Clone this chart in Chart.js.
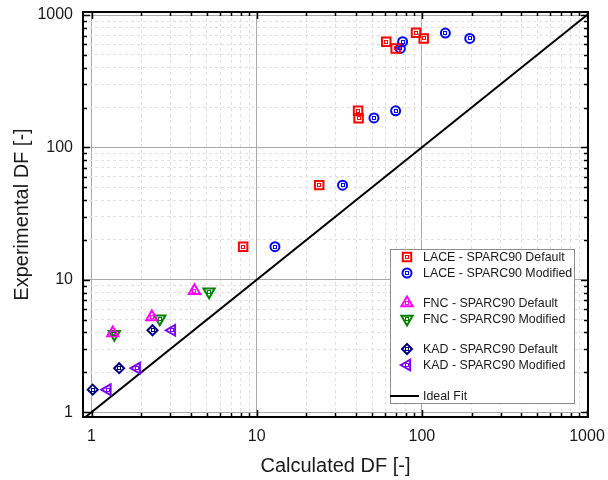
<!DOCTYPE html>
<html lang="en">
<head>
<meta charset="UTF-8">
<title>Experimental vs Calculated DF</title>
<script src="https://cdn.jsdelivr.net/npm/chart.js"></script>
<style>
  html, body { margin: 0; padding: 0; background: #ffffff; }
  #wrap { width: 608px; height: 480px; }
</style>
</head>
<body>
<div id="wrap"><canvas id="dfChart" width="608" height="480"></canvas></div>
<script>
// LACE - SPARC90
const laceDefaultX = [8.28, 23.9, 41.1, 41.4, 60.9, 69.4, 92.2, 102.6];
const laceDefaultY = [17.8, 51.9, 189, 166, 629, 559, 736, 666];
const laceModifiedX = [12.9, 33.1, 51.3, 69.4, 74.1, 76.5, 138.8, 195];
const laceModifiedY = [17.8, 51.9, 167, 189, 559, 629, 731, 666];

// FNC - SPARC90
const fncDefaultX = [1.345, 2.32, 4.20];
const fncDefaultY = [3.97, 5.24, 8.26];
const fncModifiedX = [1.375, 2.59, 5.15];
const fncModifiedY = [3.88, 5.07, 8.11];

// KAD - SPARC90
const kadDefaultX = [1.017, 1.47, 2.34];
const kadDefaultY = [1.48, 2.15, 4.16];
const kadModifiedX = [1.25, 1.88, 3.07];
const kadModifiedY = [1.48, 2.15, 4.16];

// ideal fit y = x
const idealFit = [0.9, 1000];

// axes
const decades = [1, 10, 100, 1000];
const decadeLabels = ['1', '10', '100', '1000'];
const minorSteps = [2, 3, 4, 5, 6, 7, 8, 9];

const tickValues = [];
decades.forEach(d => {
    tickValues.push(d);
    if (d < 1000) minorSteps.forEach(m => tickValues.push(d * m));
});

const pairs = (xs, ys) => xs.map((x, i) => ({ x: x, y: ys[i] }));

function series(label, xs, ys, color, style, radius, rotation, group) {
    return {
        label: label,
        data: pairs(xs, ys),
        borderColor: color,
        backgroundColor: 'rgba(255,255,255,0)',
        pointStyle: style,
        pointRadius: radius,
        pointHoverRadius: radius,
        pointRotation: rotation,
        pointBorderWidth: 2,
        showLine: false,
        legendGroup: group
    };
}

const datasets = [
    series('LACE - SPARC90 Default', laceDefaultX, laceDefaultY, '#ff0000', 'rect', 6, 0, 0),
    series('LACE - SPARC90 Modified', laceModifiedX, laceModifiedY, '#0000ff', 'circle', 4.5, 0, 0),
    series('FNC - SPARC90 Default', fncDefaultX, fncDefaultY, '#ff00ff', 'triangle', 6.5, 0, 1),
    series('FNC - SPARC90 Modified', fncModifiedX, fncModifiedY, '#008000', 'triangle', 6.5, 180, 1),
    series('KAD - SPARC90 Default', kadDefaultX, kadDefaultY, '#000080', 'rectRot', 5, 0, 2),
    series('KAD - SPARC90 Modified', kadModifiedX, kadModifiedY, '#8000ff', 'triangle', 6.2, 270, 2),
    {
        type: 'line',
        label: 'Ideal Fit',
        data: idealFit.map(v => ({ x: v, y: v })),
        borderColor: '#000000',
        borderWidth: 2,
        pointRadius: 0,
        showLine: true,
        fill: false,
        legendGroup: 3
    }
];

// small hollow dot in the centre of every marker
const centerDots = {
    id: 'centerDots',
    afterDatasetsDraw(chart) {
        const ctx = chart.ctx;
        ctx.save();
        chart.data.datasets.forEach((ds, i) => {
            if (ds.type === 'line') return;
            ctx.strokeStyle = ds.borderColor;
            ctx.lineWidth = 1;
            chart.getDatasetMeta(i).data.forEach(pt => {
                const cx = Math.round(pt.x), cy = Math.round(pt.y);
                ctx.strokeRect(cx - 1.5, cy - 1.5, 3, 3);
            });
        });
        ctx.restore();
    }
};

// black frame on four sides with inward ticks, and the boxed legend
const frameAndLegend = {
    id: 'frameAndLegend',
    afterDraw(chart) {
        const { ctx, chartArea: a, scales } = chart;
        const xs = scales.x, ys = scales.y;
        ctx.save();
        ctx.strokeStyle = '#000';
        ctx.lineWidth = 1.5;
        ctx.beginPath();
        xs.ticks.forEach(t => {
            const px = Math.round(xs.getPixelForValue(t.value)) + 0.5;
            const len = decades.includes(t.value) ? 7 : 4;
            ctx.moveTo(px, a.bottom); ctx.lineTo(px, a.bottom - len);
            ctx.moveTo(px, a.top); ctx.lineTo(px, a.top + len);
        });
        ys.ticks.forEach(t => {
            const py = Math.round(ys.getPixelForValue(t.value)) + 0.5;
            const len = decades.includes(t.value) ? 7 : 4;
            ctx.moveTo(a.left, py); ctx.lineTo(a.left + len, py);
            ctx.moveTo(a.right, py); ctx.lineTo(a.right - len, py);
        });
        ctx.stroke();
        ctx.lineWidth = 2;
        ctx.strokeRect(a.left, a.top, a.right - a.left, a.bottom - a.top);

        // legend
        const box = { left: 390.5, top: 249.5, right: 574.5, bottom: 403.5 };
        ctx.fillStyle = '#ffffff';
        ctx.fillRect(box.left, box.top, box.right - box.left, box.bottom - box.top);
        ctx.strokeStyle = '#8c8c8c';
        ctx.lineWidth = 1;
        ctx.strokeRect(box.left, box.top, box.right - box.left, box.bottom - box.top);

        ctx.font = '12.4px "Liberation Sans", Arial, sans-serif';
        ctx.textBaseline = 'middle';
        ctx.textAlign = 'left';
        let y = 257;
        let lastGroup = 0;
        chart.data.datasets.forEach(ds => {
            if (ds.legendGroup !== lastGroup) {
                y += ds.legendGroup === 3 ? 15 : 14;
                lastGroup = ds.legendGroup;
            }
            if (ds.type === 'line') {
                ctx.strokeStyle = ds.borderColor;
                ctx.lineWidth = 2;
                ctx.beginPath();
                ctx.moveTo(390, y); ctx.lineTo(419, y);
                ctx.stroke();
            } else {
                ctx.strokeStyle = ds.borderColor;
                ctx.fillStyle = '#ffffff';
                ctx.lineWidth = 2;
                Chart.helpers.drawPoint(ctx, {
                    pointStyle: ds.pointStyle,
                    rotation: ds.pointRotation,
                    radius: ds.pointRadius,
                    borderWidth: 2
                }, 407, y);
                ctx.lineWidth = 1;
                ctx.strokeRect(407 - 1.5, Math.round(y) - 1.5, 3, 3);
            }
            ctx.fillStyle = '#1a1a1a';
            ctx.fillText(ds.label, 423, y + 0.5);
            y += 16;
        });
        ctx.restore();
    }
};

const gridColor = c => (c.tick && decades.includes(c.tick.value)) ? '#a9a9a9' : '#e0e0e0';
const gridDash = c => (c.tick && decades.includes(c.tick.value)) ? [] : [3, 3];
const tickLabel = v => decades.includes(v) ? decadeLabels[decades.indexOf(v)] : '';

new Chart(document.getElementById('dfChart'), {
    type: 'scatter',
    data: { datasets: datasets },
    options: {
        responsive: false,
        animation: false,
        events: [],
        layout: { padding: { left: 0, right: 20, top: 12, bottom: 0 } },
        plugins: {
            legend: { display: false },
            tooltip: { enabled: false }
        },
        scales: {
            x: {
                type: 'logarithmic',
                min: 0.888,
                max: 1014,
                afterBuildTicks: s => { s.ticks = tickValues.map(v => ({ value: v })); },
                afterFit: s => { s.height = 63; s.paddingLeft = 0; s.paddingRight = 0; },
                grid: { color: gridColor, lineWidth: 1, drawTicks: false },
                border: { display: false, dash: gridDash },
                ticks: {
                    autoSkip: false,
                    maxRotation: 0,
                    padding: 10,
                    color: '#1a1a1a',
                    font: { family: '"Liberation Sans", Arial, sans-serif', size: 16 },
                    callback: tickLabel
                },
                title: {
                    display: true,
                    text: 'Calculated DF [-]',
                    color: '#1a1a1a',
                    font: { family: '"Liberation Sans", Arial, sans-serif', size: 20 },
                    padding: { top: 0, bottom: 2 }
                }
            },
            y: {
                type: 'logarithmic',
                min: 0.92,
                max: 1054,
                afterBuildTicks: s => { s.ticks = tickValues.map(v => ({ value: v })); },
                afterFit: s => { s.width = 83; s.paddingTop = 0; s.paddingBottom = 0; },
                grid: { color: gridColor, lineWidth: 1, drawTicks: false },
                border: { display: false, dash: gridDash },
                ticks: {
                    autoSkip: false,
                    padding: 10,
                    color: '#1a1a1a',
                    font: { family: '"Liberation Sans", Arial, sans-serif', size: 16 },
                    callback: tickLabel
                },
                title: {
                    display: true,
                    text: 'Experimental DF [-]',
                    color: '#1a1a1a',
                    font: { family: '"Liberation Sans", Arial, sans-serif', size: 20 },
                    padding: { top: 10, bottom: 0 }
                }
            }
        }
    },
    plugins: [centerDots, frameAndLegend]
});
</script>
</body>
</html>
